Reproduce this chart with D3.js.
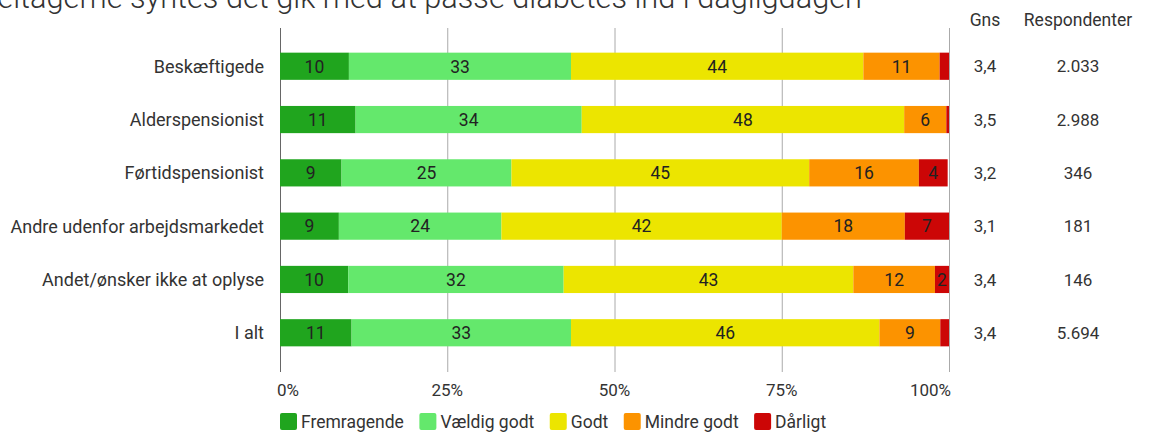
<!DOCTYPE html>
<html>
<head>
<meta charset="utf-8">
<script src="https://cdn.jsdelivr.net/npm/d3@7"></script>
<style>
  html, body { margin: 0; padding: 0; background: #fff; }
  svg { display: block; font-family: Roboto, "Noto Sans", sans-serif; }
</style>
</head>
<body>
<svg id="chart" width="1149" height="435"></svg>
<script>
const title = "deltagerne syntes det gik med at passe diabetes ind i dagligdagen";
const categories = ["Beskæftigede", "Alderspensionist", "Førtidspensionist", "Andre udenfor arbejdsmarkedet", "Andet/ønsker ikke at oplyse", "I alt"];
const seriesNames = ["Fremragende", "Vældig godt", "Godt", "Mindre godt", "Dårligt"];
const seriesColors = ["#20a51e", "#64e86c", "#ece500", "#fc9300", "#cc0606"];
const fremragende = [10.3, 11.3, 9.2, 8.8, 10.2, 10.7];
const vaeldigGodt = [33.2, 33.8, 25.4, 24.3, 32.2, 32.8];
const godt        = [43.7, 48.2, 44.5, 41.9, 43.3, 46.1];
const mindreGodt  = [11.4, 6.3, 16.4, 18.4, 12.2, 9.1];
const daarligt    = [1.4, 0.4, 4.3, 6.6, 2.1, 1.3];
const gns = ["3,4", "3,5", "3,2", "3,1", "3,4", "3,4"];
const respondenter = ["2.033", "2.988", "346", "181", "146", "5.694"];
const tickValues = [0, 25, 50, 75, 100];
const tickLabels = ["0%", "25%", "50%", "75%", "100%"];

const seriesValues = [fremragende, vaeldigGodt, godt, mindreGodt, daarligt];
const rows = categories.map((c, i) => {
  const r = { cat: c };
  seriesNames.forEach((s, j) => r[s] = seriesValues[j][i]);
  return r;
});

const svg = d3.select("#chart");
const x = d3.scaleLinear().domain([0, 100]).range([280, 949]);
const y = d3.scaleBand().domain(categories).range([26, 373]).paddingInner(0.49).paddingOuter(0.5);
const color = d3.scaleOrdinal().domain(seriesNames).range(seriesColors);
const FS = 17.5;

// Title (cut off at the top-left edge as in the reference)
const titleEl = svg.append("text")
  .attr("x", 862).attr("y", 8)
  .attr("text-anchor", "end")
  .attr("font-size", 26).attr("font-weight", 300)
  .attr("fill", "#333")
  .text(title);
{
  const full = titleEl.node().getComputedTextLength();
  const probe = svg.append("text").attr("font-size", 26).attr("font-weight", 300).text("d");
  const dw = probe.node().getComputedTextLength();
  probe.remove();
  const s = (862 + 3) / (full - dw);
  titleEl.attr("font-size", 26 * s);
}

// Grid lines
svg.append("g").selectAll("line").data(tickValues).join("line")
  .attr("x1", d => x(d) + 0.5).attr("x2", d => x(d) + 0.5)
  .attr("y1", 28).attr("y2", 372)
  .attr("stroke", d => (d === 0 ? "#666" : "#aaa"))
  .attr("stroke-width", 1);

// Stacked bars
const stack = d3.stack().keys(seriesNames);
const stacked = stack(rows);
const groups = svg.append("g").selectAll("g").data(stacked).join("g")
  .attr("fill", d => color(d.key));
groups.selectAll("rect").data(d => d).join("rect")
  .attr("x", d => x(d[0]))
  .attr("y", d => y(d.data.cat))
  .attr("width", d => x(d[1]) - x(d[0]))
  .attr("height", y.bandwidth());

// Segment labels
const labelG = svg.append("g");
stacked.forEach(layer => {
  layer.forEach(d => {
    const w = x(d[1]) - x(d[0]);
    if (w < 12) return;
    labelG.append("text")
      .attr("x", (x(d[0]) + x(d[1])) / 2)
      .attr("y", y(d.data.cat) + y.bandwidth() / 2)
      .attr("dy", "0.36em")
      .attr("text-anchor", "middle")
      .attr("font-size", FS)
      .attr("fill", "#222")
      .text(Math.round(d[1] - d[0]));
  });
});

// Category labels
svg.append("g").selectAll("text").data(categories).join("text")
  .attr("x", 264)
  .attr("y", d => y(d) + y.bandwidth() / 2)
  .attr("dy", "0.36em")
  .attr("text-anchor", "end")
  .attr("font-size", 18)
  .attr("fill", "#333")
  .text(d => d);

// X tick labels
svg.append("g").selectAll("text").data(tickValues).join("text")
  .attr("x", (d, i) => i === 0 ? x(d) - 3 : (i === tickValues.length - 1 ? x(d) + 2 : x(d)))
  .attr("y", 390)
  .attr("dy", "0.36em")
  .attr("text-anchor", (d, i) => i === 0 ? "start" : (i === tickValues.length - 1 ? "end" : "middle"))
  .attr("font-size", 17)
  .attr("fill", "#333")
  .text((d, i) => tickLabels[i]);

// Right columns
const colGns = 985, colResp = 1078;
svg.append("text").attr("x", colGns).attr("y", 20).attr("dy", "0.36em")
  .attr("text-anchor", "middle").attr("font-size", FS).attr("fill", "#333").text("Gns");
svg.append("text").attr("x", colResp).attr("y", 20).attr("dy", "0.36em")
  .attr("text-anchor", "middle").attr("font-size", FS).attr("fill", "#333").text("Respondenter");
svg.append("g").selectAll("text").data(gns).join("text")
  .attr("x", colGns)
  .attr("y", (d, i) => y(categories[i]) + y.bandwidth() / 2)
  .attr("dy", "0.36em").attr("text-anchor", "middle")
  .attr("font-size", 17).attr("fill", "#333")
  .text(d => d);
svg.append("g").selectAll("text").data(respondenter).join("text")
  .attr("x", colResp)
  .attr("y", (d, i) => y(categories[i]) + y.bandwidth() / 2)
  .attr("dy", "0.36em").attr("text-anchor", "middle")
  .attr("font-size", 17).attr("fill", "#333")
  .text(d => d);

// Legend
const legend = svg.append("g");
let lx = 280;
seriesNames.forEach(name => {
  const item = legend.append("g").attr("transform", `translate(${lx},0)`);
  item.append("rect").attr("x", 0).attr("y", 413).attr("width", 17).attr("height", 17)
    .attr("rx", 2).attr("fill", color(name));
  const t = item.append("text").attr("x", 21).attr("y", 421.5).attr("dy", "0.36em")
    .attr("font-size", FS).attr("fill", "#333").text(name);
  lx += 21 + t.node().getComputedTextLength() + 15.5;
});
</script>
</body>
</html>
